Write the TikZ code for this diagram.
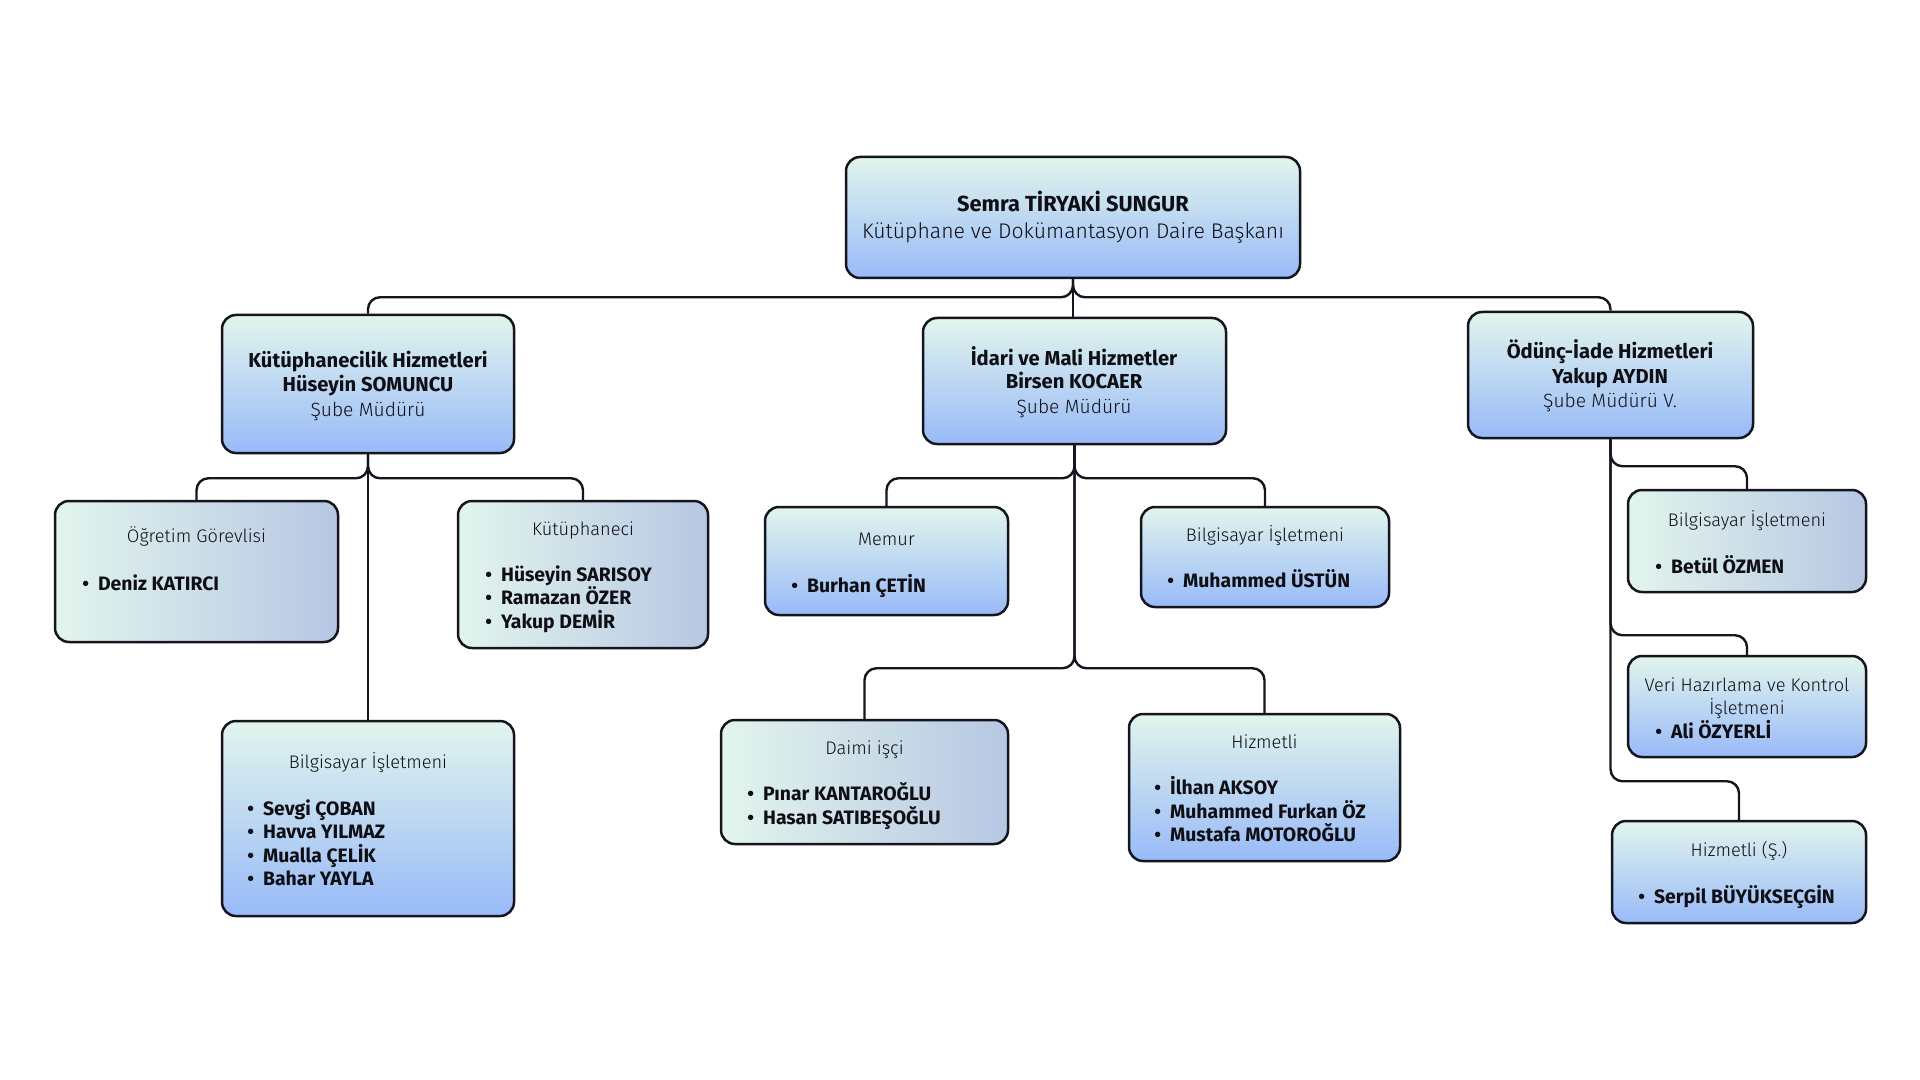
\documentclass[tikz,border=0pt]{standalone}
\usepackage{fontspec}
\setmainfont{Fira Sans}
\newfontfamily\lightf{Fira Sans Light}
\usetikzlibrary{fit}
\definecolor{mint}{HTML}{E2F5EC}
\definecolor{vblue}{HTML}{98BAF8}
\definecolor{hgrey}{HTML}{B7C7E3}
\definecolor{edge}{HTML}{15151F}
\definecolor{ink}{HTML}{0E0E14}
\tikzset{
 boxbase/.style={draw=edge, line width=1.25pt, rounded corners=7pt, inner sep=0pt},
 vbox/.style={boxbase, top color=mint, bottom color=vblue},
 hbox/.style={boxbase, left color=mint, right color=hgrey},
 link/.style={draw=edge, line width=1.2pt, rounded corners=6pt},
 tophd/.style={anchor=base, text=ink, font=\bfseries\fontsize{10.9}{12}\selectfont, inner sep=0pt},
 topsub/.style={anchor=base, text=ink, font=\lightf\fontsize{10.6}{12}\selectfont, inner sep=0pt},
 hd/.style={anchor=base, text=ink, font=\bfseries\fontsize{10.1}{11}\selectfont, inner sep=0pt},
 hdr/.style={anchor=base, text=ink, font=\lightf\fontsize{9.6}{11}\selectfont, inner sep=0pt},
 ttl/.style={anchor=base, text=ink, font=\lightf\fontsize{9.1}{10}\selectfont, inner sep=0pt},
 bul/.style={anchor=base west, text=ink, font=\bfseries\fontsize{9.7}{10}\selectfont, inner sep=0pt},
}
\newcommand{\bulline}[4]{\node[bul] (#1) at (#2,#3) {•\hspace{4.5pt}#4};}
\begin{document}
\begin{tikzpicture}[x=0.5pt,y=-0.5pt]
\useasboundingbox (0,0) rectangle (1920,1080);
\fill[white] (0,0) rectangle (1920,1080);

% boxes
\node[vbox, fit={(846,157) (1300,278)}] (top) {};
\node[vbox, fit={(222,315) (514,453)}] (kh) {};
\node[vbox, fit={(923,318) (1226,444)}] (im) {};
\node[vbox, fit={(1468,312) (1753,438)}] (od) {};
\node[hbox, fit={(55,501) (338,642)}] (og) {};
\node[hbox, fit={(458,501) (708,648)}] (ku) {};
\node[vbox, fit={(222,721) (514,916)}] (bl) {};
\node[vbox, fit={(765,507) (1008,615)}] (me) {};
\node[vbox, fit={(1141,507) (1389,607)}] (bm) {};
\node[hbox, fit={(721,720) (1008,844)}] (da) {};
\node[vbox, fit={(1129,714) (1400,861)}] (hz) {};
\node[hbox, fit={(1628,490) (1866,592)}] (br) {};
\node[vbox, fit={(1628,656) (1866,757)}] (vh) {};
\node[vbox, fit={(1612,821) (1866,923)}] (hs) {};

% connectors
\draw[link] (top.south) -- ++(0,18) -| (kh.north);
\draw[link] (top.south) -- ++(0,18) -| (od.north);
\draw[link] (top.south) -- (top.south |- im.north);

\draw[link] (kh.south) -- ++(0,24) -| (og.north);
\draw[link] (kh.south) -- ++(0,24) -| (ku.north);
\draw[link] (kh.south) -- (kh.south |- bl.north);

\draw[link] (im.south) -- ++(0,33) -| (me.north);
\draw[link] (im.south) -- ++(0,33) -| (bm.north);
\draw[link] (im.south) -- ++(0,223) -| (da.north);
\draw[link] (im.south) -- ++(0,223) -| (hz.north);

\draw[link] (od.south) -- ++(0,27) -| (br.north);
\draw[link] (od.south) -- ++(0,196) -| (vh.north);
\draw[link] (od.south) -- ++(0,342) -| (hs.north);

% texts: top
\node[tophd] (t1) at (1073,212) {Semra TİRYAKİ SUNGUR};
\node[topsub] (t2) at (1073,239) {Kütüphane ve Dokümantasyon Daire Başkanı};

\node[hd] (kh1) at (368,367) {Kütüphanecilik Hizmetleri};
\node[hd] (kh2) at (368,391) {Hüseyin SOMUNCU};
\node[hdr] (kh3) at (368,416) {Şube Müdürü};

\node[hd] (im1) at (1074,365) {İdari ve Mali Hizmetler};
\node[hd] (im2) at (1074,388) {Birsen KOCAER};
\node[hdr] (im3) at (1074,413) {Şube Müdürü};

\node[hd] (od1) at (1610,358) {Ödünç-İade Hizmetleri};
\node[hd] (od2) at (1610,383) {Yakup AYDIN};
\node[hdr] (od3) at (1610,407) {Şube Müdürü V.};

% child boxes
\node[ttl] (og0) at (196.5,542) {Öğretim Görevlisi};
\bulline{og1}{82}{590}{Deniz KATIRCI}

\node[ttl] (ku0) at (583,535) {Kütüphaneci};
\bulline{ku1}{485}{581}{Hüseyin SARISOY}
\bulline{ku2}{485}{604.5}{Ramazan ÖZER}
\bulline{ku3}{485}{628}{Yakup DEMİR}

\node[ttl] (bl0) at (368,768) {Bilgisayar İşletmeni};
\bulline{bl1}{247}{815}{Sevgi ÇOBAN}
\bulline{bl2}{247}{838}{Havva YILMAZ}
\bulline{bl3}{247}{862}{Mualla ÇELİK}
\bulline{bl4}{247}{885}{Bahar YAYLA}

\node[ttl] (me0) at (886.5,545) {Memur};
\bulline{me1}{791}{592}{Burhan ÇETİN}

\node[ttl] (bm0) at (1265,541) {Bilgisayar İşletmeni};
\bulline{bm1}{1167}{587}{Muhammed ÜSTÜN}

\node[ttl] (da0) at (864.5,754) {Daimi işçi};
\bulline{da1}{747}{800}{Pınar KANTAROĞLU}
\bulline{da2}{747}{824}{Hasan SATIBEŞOĞLU}

\node[ttl] (hz0) at (1264.5,748) {Hizmetli};
\bulline{hz1}{1154}{794}{İlhan AKSOY}
\bulline{hz2}{1154}{818}{Muhammed Furkan ÖZ}
\bulline{hz3}{1154}{841}{Mustafa MOTOROĞLU}

\node[ttl] (br0) at (1747,526) {Bilgisayar İşletmeni};
\bulline{br1}{1655}{573}{Betül ÖZMEN}

\node[ttl] (vh0) at (1747,691) {Veri Hazırlama ve Kontrol};
\node[ttl] (vh0b) at (1747,714) {İşletmeni};
\bulline{vh1}{1655}{738}{Ali ÖZYERLİ}

\node[ttl] (hs0) at (1739,856) {Hizmetli (Ş.)};
\bulline{hs1}{1638}{903}{Serpil BÜYÜKSEÇGİN}
\end{tikzpicture}
\end{document}
